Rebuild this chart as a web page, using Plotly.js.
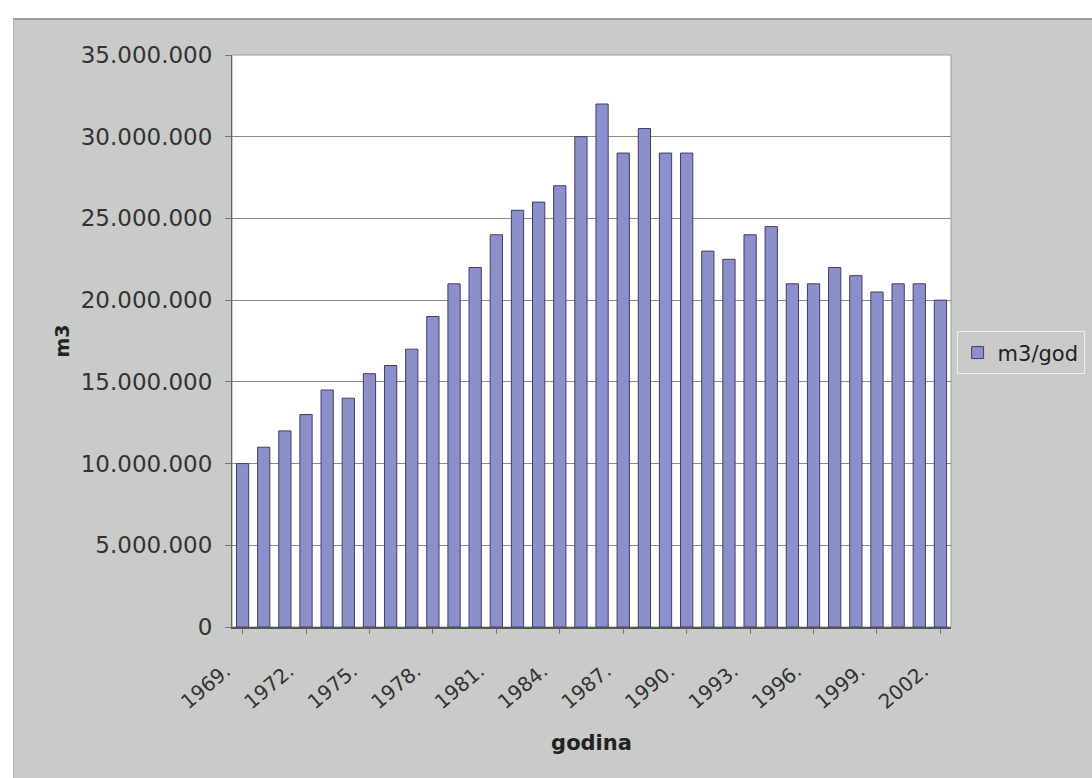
<!DOCTYPE html>
<html>
<head>
<meta charset="utf-8">
<script src="https://cdn.plot.ly/plotly-3.0.1.min.js"></script>
<style>
html,body{margin:0;padding:0;background:#ffffff;}
#bg{position:absolute;left:13px;top:18px;width:1079px;height:760px;background:#c9cbc8;border-top:2px solid #9a9c9a;border-left:1px solid #b0b2b0;}
#chart{position:absolute;left:0;top:0;width:1092px;height:778px;}
</style>
</head>
<body>
<div id="bg"></div>
<div id="chart"></div>
<script>
const years = ["1969.","1970.","1971.","1972.","1973.","1974.","1975.","1976.","1977.","1978.",
  "1979.","1980.","1981.","1982.","1983.","1984.","1985.","1986.","1987.","1988.",
  "1989.","1990.","1991.","1992.","1993.","1994.","1995.","1996.","1997.","1998.",
  "1999.","2000.","2001.","2002."];
const volumes = [10000000,11000000,12000000,13000000,14500000,14000000,15500000,16000000,17000000,19000000,
  21000000,22000000,24000000,25500000,26000000,27000000,30000000,32000000,29000000,30500000,
  29000000,29000000,23000000,22500000,24000000,24500000,21000000,21000000,22000000,21500000,
  20500000,21000000,21000000,20000000];
const tickYears = ["1969.","1972.","1975.","1978.","1981.","1984.","1987.","1990.","1993.","1996.","1999.","2002."];
const seriesName = "m3/god";

const FONT = 'DejaVu Sans, Arial, sans-serif';

const trace = {
  type: 'bar',
  x: years,
  y: volumes,
  name: seriesName,
  marker: {color: '#8b8fcb', line: {color: '#3c3f66', width: 1}},
  showlegend: true
};

const layout = {
  width: 1092, height: 778,
  paper_bgcolor: 'rgba(0,0,0,0)',
  plot_bgcolor: '#ffffff',
  separators: ',.',
  margin: {l: 232, r: 141, t: 55, b: 151},
  bargap: 0.42,
  font: {family: FONT, color: '#2a2a2a', size: 20},
  xaxis: {
    type: 'category',
    tickmode: 'array',
    tickvals: tickYears,
    ticktext: tickYears,
    tickangle: -40,
    tickfont: {size: 20, color: '#333333', family: FONT},
    ticklabelstandoff: 18,
    ticklabelshift: -17,
    showline: true, linecolor: '#555555', linewidth: 1.5,
    ticks: 'outside', ticklen: 5, tickcolor: '#777777',
    showgrid: false,
    automargin: false,
    title: {text: 'godina', font: {size: 21, color: '#222222', weight: 'bold', family: FONT}, standoff: 22}
  },
  yaxis: {
    range: [0, 35000000],
    dtick: 5000000,
    tickformat: ',d',
    tickfont: {size: 23, color: '#333333', family: FONT},
    ticklabelstandoff: 8,
    showline: true, linecolor: '#666666', linewidth: 1,
    ticks: 'outside', ticklen: 6, tickcolor: '#777777',
    showgrid: true, gridcolor: '#8a8a8a', gridwidth: 1,
    zeroline: false,
    automargin: false,
    title: {text: 'm3', font: {size: 19, color: '#222222', weight: 'bold', family: FONT}, standoff: 6}
  },
  legend: {
    xref: 'container', yref: 'container',
    x: 0.876, y: 0.574, xanchor: 'left', yanchor: 'top',
    bgcolor: 'rgba(0,0,0,0)', bordercolor: '#eeeeee', borderwidth: 1,
    font: {size: 21, color: '#222222', family: FONT},
    itemwidth: 30
  },
  shapes: [
    {type: 'rect', xref: 'paper', yref: 'paper', x0: 0, x1: 1, y0: 0, y1: 1,
     line: {color: '#9a9a9a', width: 1}, layer: 'below'}
  ]
};

Plotly.newPlot('chart', [trace], layout, {displayModeBar: false, staticPlot: true});
</script>
</body>
</html>
